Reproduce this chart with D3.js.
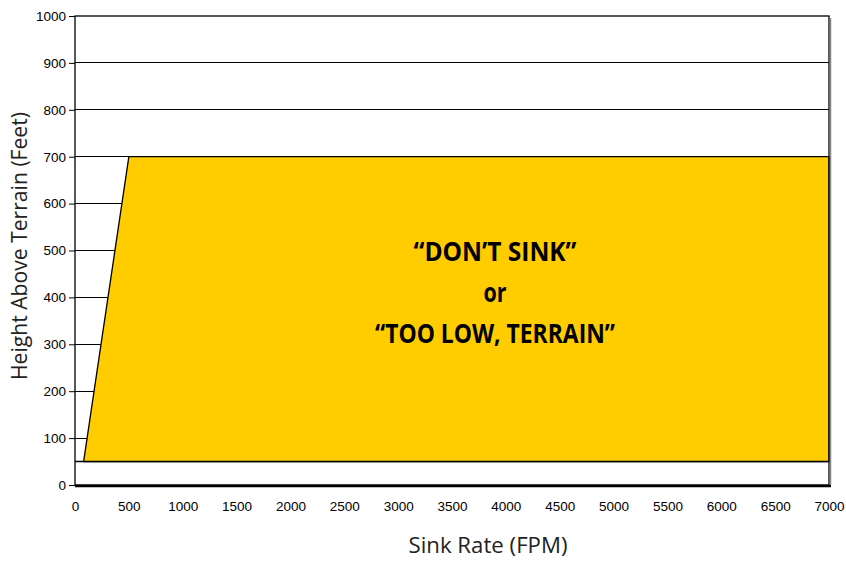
<!DOCTYPE html>
<html><head><meta charset="utf-8">
<script src="https://cdn.jsdelivr.net/npm/d3@7"></script>
<style>body{margin:0;background:#fff}svg{display:block}</style>
</head><body>
<svg id="c" width="846" height="561"></svg>
<script>
const xTicks = [0,500,1000,1500,2000,2500,3000,3500,4000,4500,5000,5500,6000,6500,7000];
const yTicks = [0,100,200,300,400,500,600,700,800,900,1000];
const alertSink = [80, 500, 7000, 7000];
const alertHeight = [50, 700, 700, 50];
const floorLine = {sink:[0,7000], height:[50,50]};
const labelLines = ["\u201CDON\u2019T SINK\u201D", "or", "\u201CTOO LOW, TERRAIN\u201D"];

const svg = d3.select("#c");
const L=75, R=829, T=16, B=485;
const x = d3.scaleLinear().domain([0,7000]).range([L,R]);
const y = d3.scaleLinear().domain([0,1000]).range([B,T]);

// gridlines
svg.append("g").selectAll("line").data(yTicks.filter(d=>d>0&&d<1000)).join("line")
  .attr("x1",L).attr("x2",R).attr("y1",d=>y(d)).attr("y2",d=>y(d))
  .attr("stroke","#000").attr("stroke-width",1).attr("shape-rendering","crispEdges");

// polygon
const pts = alertSink.map((s,i)=>[x(s), y(alertHeight[i])]);
svg.append("path").attr("d", d3.line()(pts)+"Z")
  .attr("fill","#FFCC00").attr("stroke","#000").attr("stroke-width",1.3);

// floor line
svg.append("line").attr("x1",x(floorLine.sink[0])).attr("x2",x(floorLine.sink[1]))
  .attr("y1",y(floorLine.height[0])).attr("y2",y(floorLine.height[1]))
  .attr("stroke","#000").attr("stroke-width",1.5);

// frame
svg.append("rect").attr("x",L).attr("y",T).attr("width",R-L).attr("height",B-T)
  .attr("fill","none").attr("stroke","#000").attr("stroke-width",1.3);
svg.append("line").attr("x1",L).attr("x2",R+2).attr("y1",B+1).attr("y2",B+1)
  .attr("stroke","#000").attr("stroke-width",2.5);
svg.append("line").attr("x1",R+1.5).attr("x2",R+1.5).attr("y1",T+2).attr("y2",B)
  .attr("stroke","#888").attr("stroke-width",1.5);

// y axis
const ya = d3.axisLeft(y).tickValues(yTicks).tickSize(6).tickPadding(3).tickFormat(d3.format("d"));
const yg = svg.append("g").attr("transform",`translate(${L},0)`).call(ya);
yg.select(".domain").remove();
yg.selectAll("text").attr("font-family","Liberation Sans, Arial, sans-serif").attr("font-size",13.5).attr("fill","#000");
yg.selectAll("line").attr("stroke","#000");

// x axis
const xa = d3.axisBottom(x).tickValues(xTicks).tickSize(0).tickPadding(16).tickFormat(d3.format("d"));
const xg = svg.append("g").attr("transform",`translate(0,${B})`).call(xa);
xg.select(".domain").remove();
xg.selectAll("text").attr("font-family","Liberation Sans, Arial, sans-serif").attr("font-size",13.5).attr("fill","#000");

// axis titles
svg.append("text").attr("x",488).attr("y",553).attr("text-anchor","middle")
  .attr("font-family","Open Sans, sans-serif").attr("font-size",21).attr("textLength",159)
  .attr("lengthAdjust","spacingAndGlyphs").attr("fill","#222").text("Sink Rate (FPM)");
svg.append("text").attr("transform",`translate(27,246) rotate(-90)`).attr("text-anchor","middle")
  .attr("font-family","Open Sans, sans-serif").attr("font-size",21).attr("textLength",268)
  .attr("lengthAdjust","spacingAndGlyphs").attr("fill","#222").text("Height Above Terrain (Feet)");

// label
const ly = [261, 302, 343];
const lw = [163, 23, 240];
svg.append("g").selectAll("text").data(labelLines).join("text")
  .attr("x",495).attr("y",(d,i)=>ly[i]).attr("text-anchor","middle")
  .attr("font-family","Open Sans, sans-serif").attr("font-weight","bold").attr("font-size",27)
  .attr("textLength",(d,i)=>lw[i]).attr("lengthAdjust","spacingAndGlyphs")
  .attr("fill","#000").text(d=>d);
</script>
</body></html>
